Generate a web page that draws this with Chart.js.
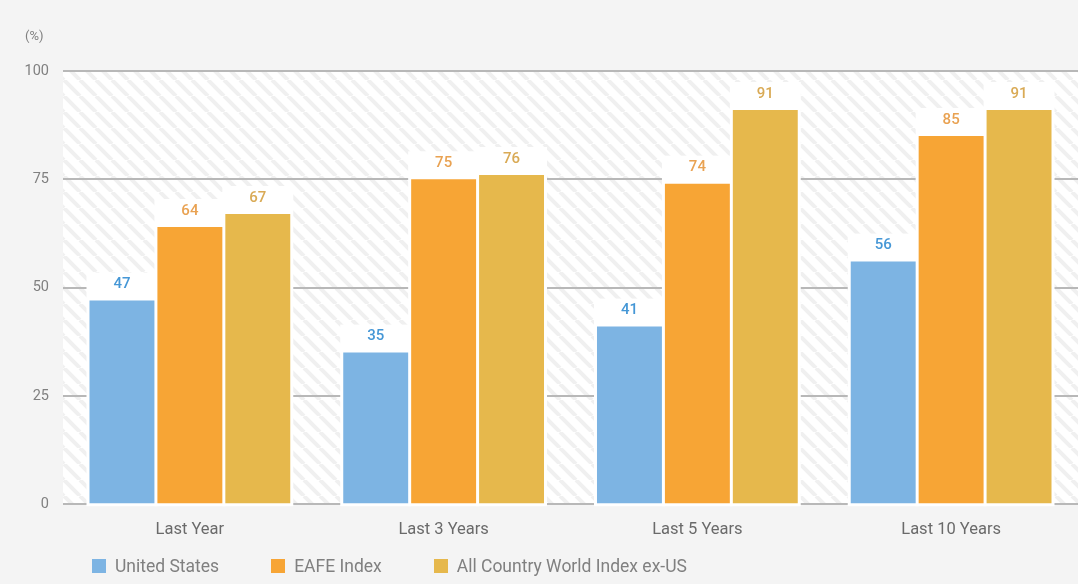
<!DOCTYPE html>
<html>
<head>
<meta charset="utf-8">
<script src="https://cdn.jsdelivr.net/npm/chart.js@4.4.1/dist/chart.umd.min.js"></script>
<style>
  body { margin: 0; background: #f4f4f4; font-family: Roboto, "Noto Sans", sans-serif; }
  #wrap { position: relative; width: 1078px; height: 584px; }
  #legend { position: absolute; left: 92px; top: 556px; display: flex; font-size: 17.5px; color: #808080; }
  #legend .item { display: flex; align-items: center; margin-right: 52px; }
  #legend .box { width: 14px; height: 14px; margin-right: 9px; }
</style>
</head>
<body>
<div id="wrap">
  <canvas id="chart" width="1078" height="584"></canvas>
  <div id="legend"></div>
</div>
<script>
// chart data
const categories = ['Last Year', 'Last 3 Years', 'Last 5 Years', 'Last 10 Years'];
const seriesNames = ['United States', 'EAFE Index', 'All Country World Index ex-US'];
const usValues = [47, 35, 41, 56];
const eafeValues = [64, 75, 74, 85];
const acwiValues = [67, 76, 91, 91];
const yTicks = [0, 25, 50, 75, 100];
const unitLabel = '(%)';

const barColors = ['#7db4e3', '#f7a535', '#e6b84c'];
const labelColors = ['#4597d6', '#e9a252', '#d9aa55'];
const fontFamily = 'Roboto, "Noto Sans", sans-serif';

// diagonal hatch for the plot area
const hatch = (() => {
    const s = 16;
    const c = document.createElement('canvas');
    c.width = s; c.height = s;
    const g = c.getContext('2d');
    g.fillStyle = '#ffffff';
    g.fillRect(0, 0, s, s);
    g.strokeStyle = '#f0f0f0';
    g.lineWidth = 4;
    [-s, 0, s].forEach(x0 => {
        g.beginPath();
        g.moveTo(x0, 0);
        g.lineTo(x0 + s, s);
        g.stroke();
    });
    return g.createPattern(c, 'repeat');
})();

const bgPlugin = {
    id: 'hatchBg',
    beforeDraw(chart) {
        const { ctx, chartArea: a } = chart;
        ctx.save();
        ctx.fillStyle = hatch;
        ctx.fillRect(a.left, a.top, a.right - a.left, a.bottom - a.top);
        ctx.fillStyle = '#808080';
        ctx.font = '13px ' + fontFamily;
        ctx.textBaseline = 'middle';
        ctx.fillText(unitLabel, 25, 37);
        ctx.restore();
    }
};

// white margins around bars and value labels in white boxes
const barPads = {
    id: 'barPads',
    beforeDatasetsDraw(chart) {
        const ctx = chart.ctx;
        ctx.save();
        ctx.fillStyle = '#ffffff';
        chart.data.datasets.forEach((ds, i) => {
            chart.getDatasetMeta(i).data.forEach(bar => {
                const w = bar.width;
                ctx.fillRect(bar.x - w / 2 - 3, bar.y - 28, w + 6, bar.base - bar.y + 31);
            });
        });
        ctx.restore();
    },
    afterDatasetsDraw(chart) {
        const ctx = chart.ctx;
        ctx.save();
        ctx.font = '500 15px ' + fontFamily;
        ctx.textAlign = 'center';
        ctx.textBaseline = 'middle';
        chart.data.datasets.forEach((ds, i) => {
            ctx.fillStyle = labelColors[i];
            chart.getDatasetMeta(i).data.forEach((bar, j) => {
                ctx.fillText(ds.data[j], bar.x, bar.y - 16);
            });
        });
        ctx.restore();
    }
};

new Chart(document.getElementById('chart'), {
    type: 'bar',
    data: {
        labels: categories,
        datasets: [usValues, eafeValues, acwiValues].map((vals, i) => ({
            label: seriesNames[i],
            data: vals,
            backgroundColor: barColors[i],
            borderWidth: 0,
            categoryPercentage: 0.803,
            barPercentage: 0.956
        }))
    },
    options: {
        responsive: false,
        animation: false,
        layout: { padding: { left: 23, right: 0, top: 71, bottom: 36 } },
        plugins: {
            legend: { display: false },
            tooltip: { enabled: false },
            title: { display: false }
        },
        scales: {
            x: {
                grid: { display: false },
                border: { display: false },
                ticks: {
                    color: '#6a6a6a',
                    padding: 8,
                    font: { size: 16.5, family: fontFamily }
                }
            },
            y: {
                min: 0,
                max: 100,
                afterBuildTicks(axis) { axis.ticks = yTicks.map(v => ({ value: v })); },
                afterFit(axis) { axis.width = 40; },
                border: { display: false },
                grid: { color: '#b8b8b8', lineWidth: 2, drawTicks: false },
                ticks: {
                    color: '#808080',
                    padding: 14,
                    font: { size: 14.5, family: fontFamily }
                }
            }
        }
    },
    plugins: [bgPlugin, barPads]
});

// legend
const legend = document.getElementById('legend');
seriesNames.forEach((name, i) => {
    const item = document.createElement('div');
    item.className = 'item';
    item.innerHTML = `<span class="box" style="background:${barColors[i]}"></span><span>${name}</span>`;
    legend.appendChild(item);
});
</script>
</body>
</html>
